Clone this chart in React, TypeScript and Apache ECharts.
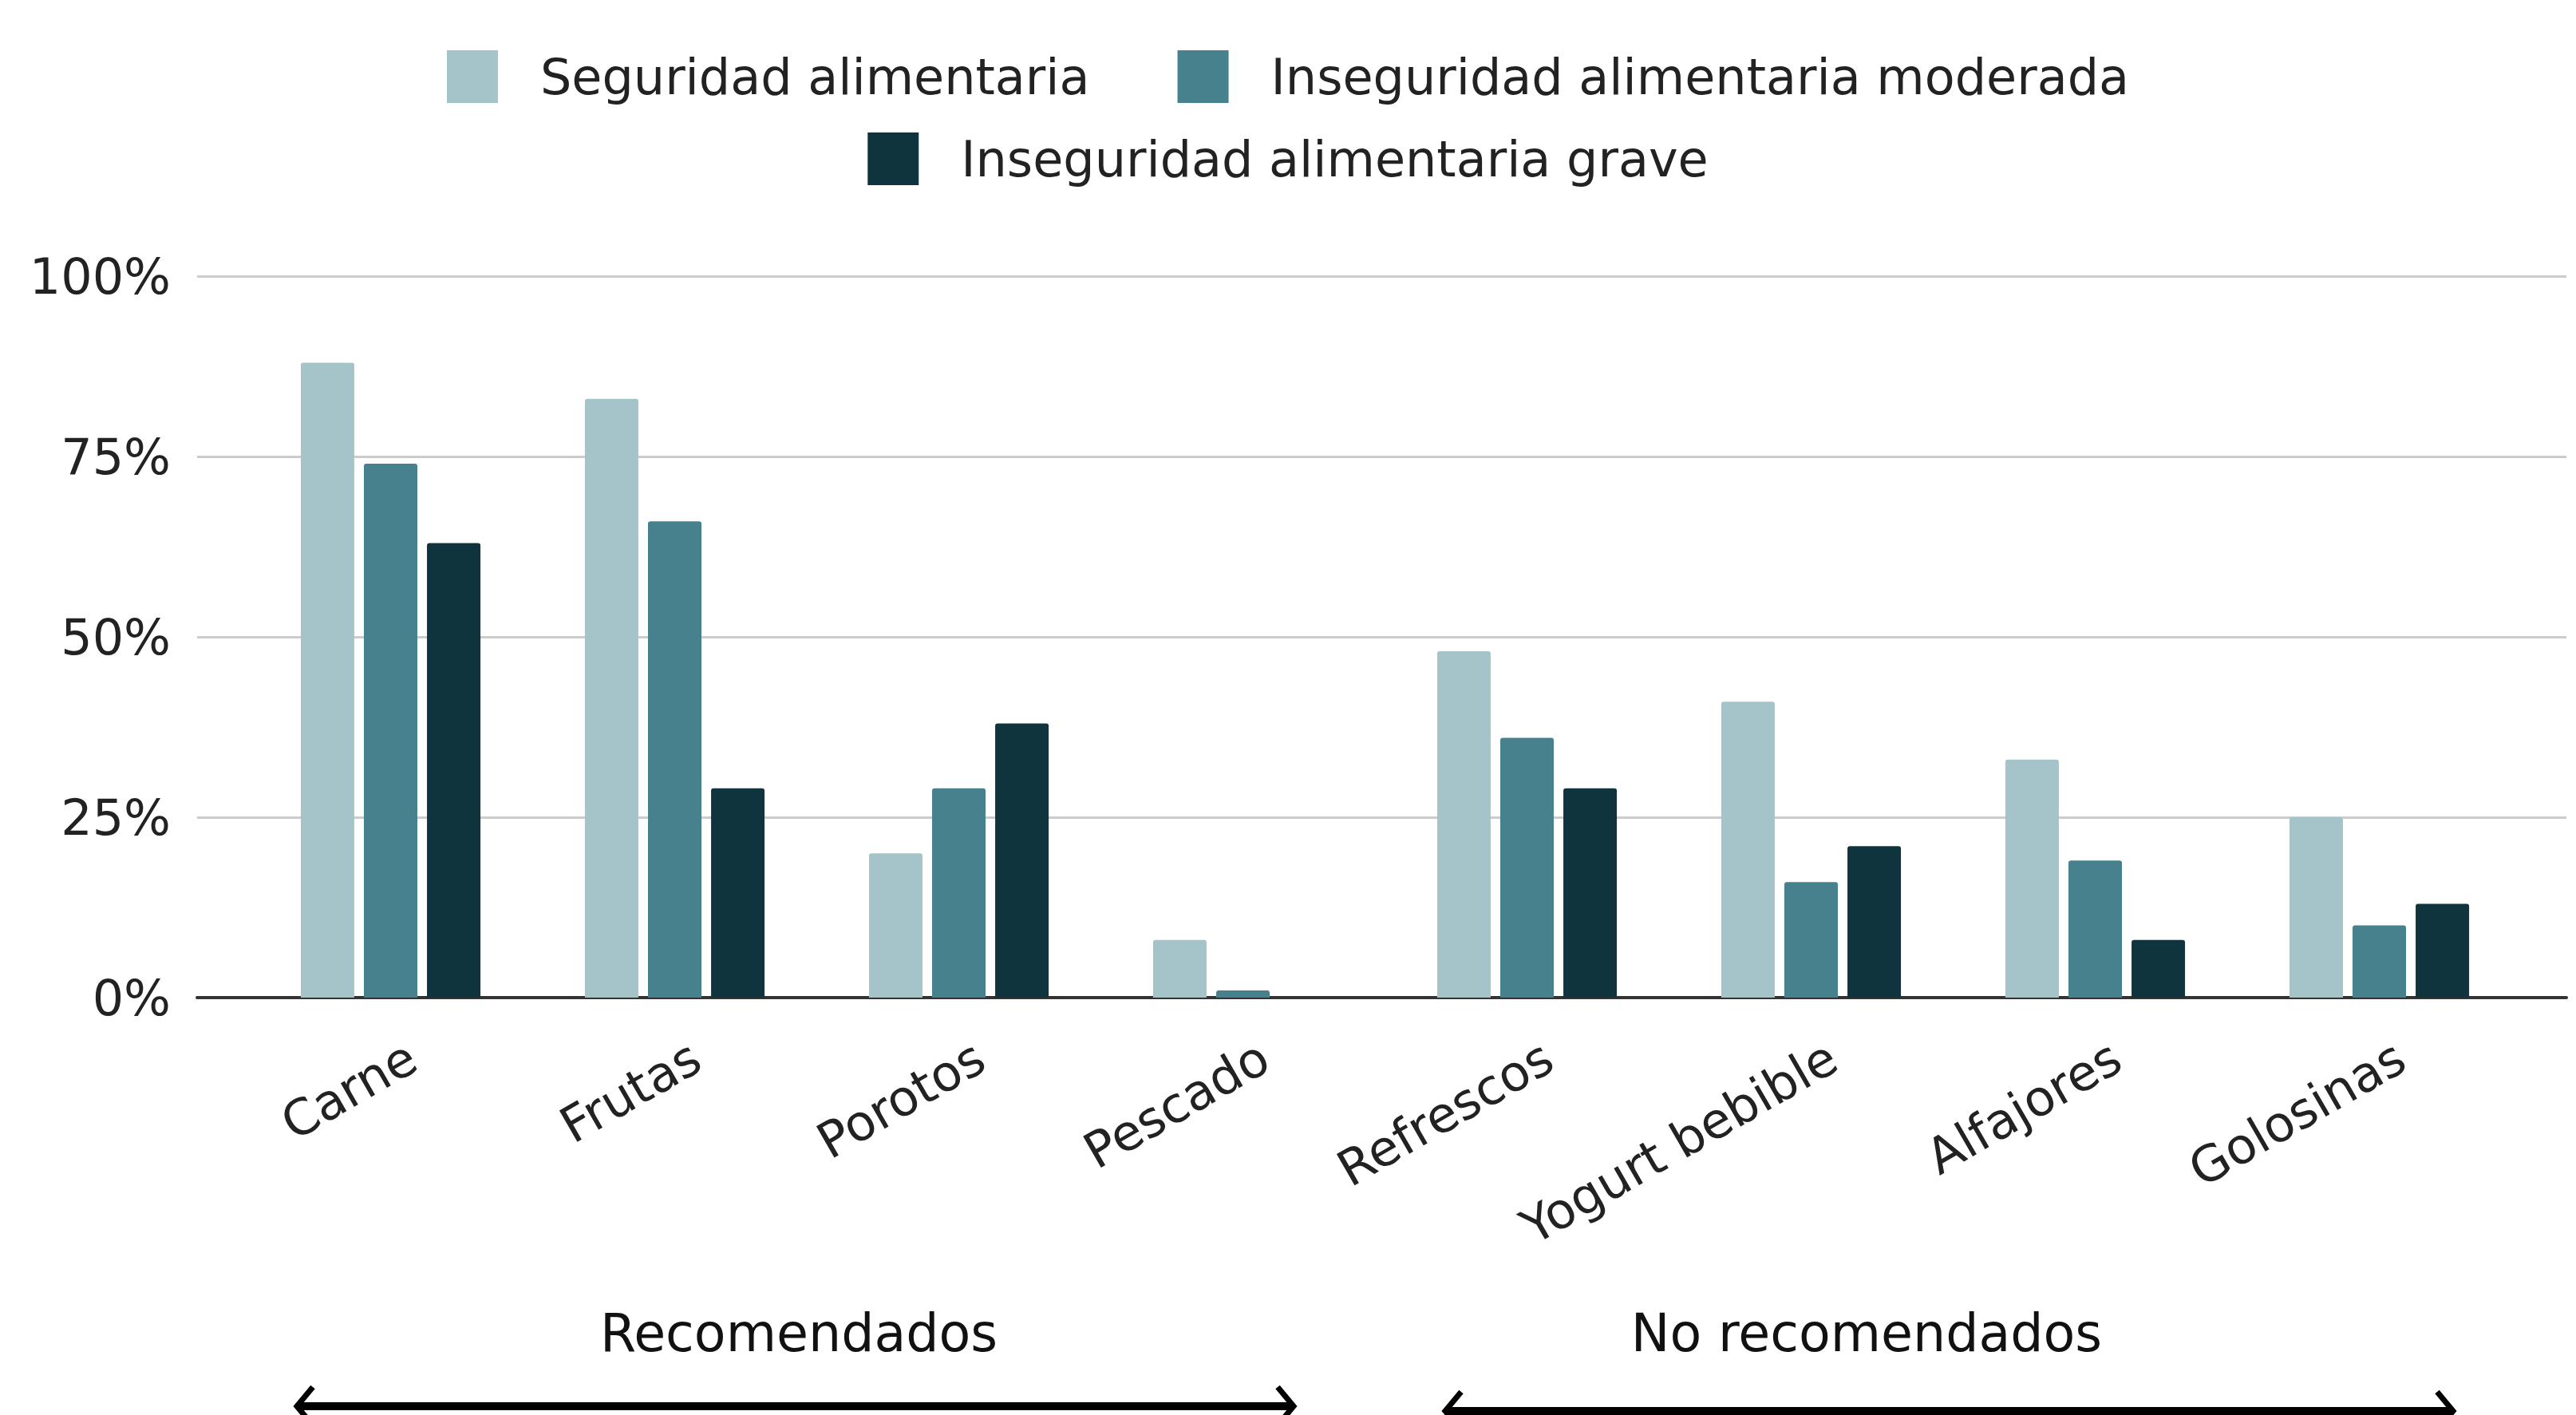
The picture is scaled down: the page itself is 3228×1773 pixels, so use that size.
import React, { useEffect, useRef } from "react";
import * as echarts from "echarts";

const categories = ["Carne", "Frutas", "Porotos", "Pescado", "Refrescos", "Yogurt bebible", "Alfajores", "Golosinas"];
const seriesNames = ["Seguridad alimentaria", "Inseguridad alimentaria moderada", "Inseguridad alimentaria grave"];
const seguridad = [88, 83, 20, 8, 48, 41, 33, 25];
const moderada = [74, 66, 29, 1, 36, 16, 19, 10];
const grave = [63, 29, 38, 0, 29, 21, 8, 13];
const colors = ["#A5C4C9", "#47818D", "#0F343D"];
const groupLabels = ["Recomendados", "No recomendados"];

const W = 3228;
const H = 1773;
const FONT = "DejaVu Sans";

export default function App() {
  const ref = useRef<HTMLDivElement>(null);
  useEffect(() => {
    document.body.style.margin = "0";
    const chart = echarts.init(ref.current!, null, { renderer: "svg" });
    const values = [seguridad, moderada, grave];
    const gridTop = 346;
    const gridBottom = H - 1250;
    const barLeft = 311.5;
    const barRight = W - 3159.5;
    const labelShift = 27;
    const option: any = {
      animation: false,
      backgroundColor: "#ffffff",
      textStyle: { fontFamily: FONT },
      legend: [
        {
          data: [seriesNames[0], seriesNames[1]],
          top: 58,
          left: "center",
          icon: "rect",
          itemWidth: 64,
          itemHeight: 66,
          itemGap: 110,
          textStyle: { fontSize: 62, color: "#222", fontFamily: FONT, padding: [0, 0, 0, 48] },
        },
        {
          data: [seriesNames[2]],
          top: 161,
          left: "center",
          icon: "rect",
          itemWidth: 64,
          itemHeight: 66,
          textStyle: { fontSize: 62, color: "#222", fontFamily: FONT, padding: [0, 0, 0, 48] },
        },
      ],
      grid: [
        { left: 247, right: W - 3216, top: gridTop, bottom: gridBottom },
        { left: barLeft, right: barRight, top: gridTop, bottom: gridBottom },
        { left: barLeft + labelShift, right: barRight - labelShift, top: gridTop, bottom: gridBottom },
      ],
      xAxis: [
        {
          gridIndex: 0,
          type: "value",
          min: 0,
          max: 1,
          axisLine: { show: true, lineStyle: { color: "#333", width: 4 } },
          axisTick: { show: false },
          axisLabel: { show: false },
          splitLine: { show: false },
        },
        {
          gridIndex: 1,
          type: "category",
          data: categories,
          axisLine: { show: false },
          axisTick: { show: false },
          axisLabel: { show: false },
        },
        {
          gridIndex: 2,
          type: "category",
          data: categories,
          axisLine: { show: false },
          axisTick: { show: false },
          axisLabel: {
            show: true,
            rotate: 30,
            margin: 70,
            fontSize: 62,
            color: "#222",
            fontFamily: FONT,
            interval: 0,
          },
        },
      ],
      yAxis: [
        {
          gridIndex: 0,
          type: "value",
          min: 0,
          max: 100,
          interval: 25,
          axisLine: { show: false },
          axisTick: { show: false },
          axisLabel: { formatter: "{value}%", fontSize: 62, color: "#222", margin: 33, fontFamily: FONT },
          splitLine: { show: true, lineStyle: { color: "#CCCCCC", width: 3 } },
        },
        { gridIndex: 1, type: "value", min: 0, max: 100, show: false, splitLine: { show: false } },
        { gridIndex: 2, type: "value", min: 0, max: 100, show: false, splitLine: { show: false } },
      ],
      series: seriesNames.map((name, i) => ({
        name,
        type: "bar",
        xAxisIndex: 1,
        yAxisIndex: 1,
        data: values[i],
        barWidth: 67,
        barGap: "18%",
        itemStyle: { color: colors[i], borderRadius: [3, 3, 0, 0] },
        z: 3,
      })),
      graphic: [
        {
          type: "text",
          x: 1001,
          y: 1670,
          style: { text: groupLabels[0], fill: "#111", font: `65px "${FONT}"`, textAlign: "center", textVerticalAlign: "middle" },
        },
        {
          type: "text",
          x: 2339,
          y: 1670,
          style: { text: groupLabels[1], fill: "#111", font: `65px "${FONT}"`, textAlign: "center", textVerticalAlign: "middle" },
        },
        { type: "line", shape: { x1: 372, y1: 1762, x2: 1621, y2: 1762 }, style: { stroke: "#000", lineWidth: 10 } },
        { type: "polyline", shape: { points: [[392, 1738], [372, 1762], [392, 1786]] }, style: { stroke: "#000", lineWidth: 7, fill: null } },
        { type: "polyline", shape: { points: [[1601, 1738], [1621, 1762], [1601, 1786]] }, style: { stroke: "#000", lineWidth: 7, fill: null } },
        { type: "line", shape: { x1: 1811, y1: 1768, x2: 3074, y2: 1768 }, style: { stroke: "#000", lineWidth: 10 } },
        { type: "polyline", shape: { points: [[1831, 1744], [1811, 1768], [1831, 1792]] }, style: { stroke: "#000", lineWidth: 7, fill: null } },
        { type: "polyline", shape: { points: [[3054, 1744], [3074, 1768], [3054, 1792]] }, style: { stroke: "#000", lineWidth: 7, fill: null } },
      ],
    };
    chart.setOption(option);
    return () => chart.dispose();
  }, []);
  return <div ref={ref} style={{ width: W, height: H }} />;
}
